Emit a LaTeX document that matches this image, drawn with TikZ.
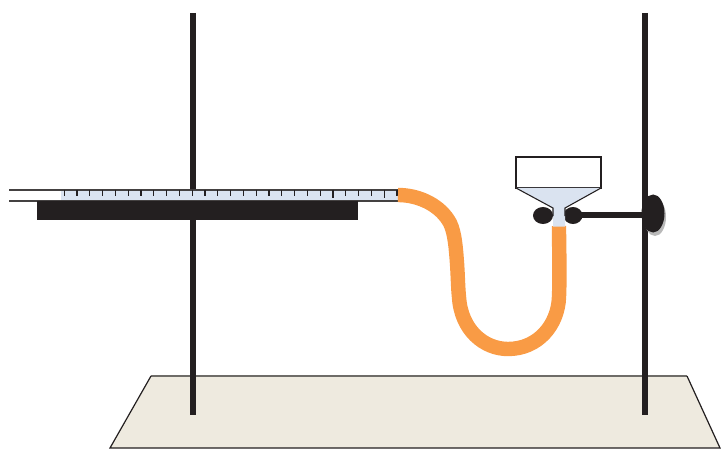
\documentclass[tikz,border=0pt]{standalone}
\definecolor{inkk}{HTML}{231F20}
\definecolor{basefill}{HTML}{EEEADF}
\definecolor{glass}{HTML}{DAE3F0}
\definecolor{tube}{HTML}{F99B45}
\definecolor{softline}{HTML}{6E6C68}
\tikzset{
  rod/.style={draw=inkk,line width=3.8pt},
  thinline/.style={draw=inkk!85,line width=1pt},
  tick/.style={draw=inkk,line width=1pt},
  blob/.style={fill=inkk,draw=none},
  tubing/.style={draw=tube,line width=10.8pt}
}
\begin{document}
\begin{tikzpicture}[x=0.75pt,y=-0.75pt]
\useasboundingbox (0,0) rectangle (721,449);
% base
\fill[basefill] (151,376) -- (687,376) -- (720,448) -- (110,448) -- cycle;
\draw[softline,line width=1pt] (151,376) -- (687,376);
\draw[inkk,line width=0.9pt] (151,376) -- (110,448) -- (720,448) -- (687,376);
% rods
\draw[rod] (193,13) -- (193,415);
\draw[rod] (645,13) -- (645,415);
% ruler / pipette
\fill[glass] (61,190) rectangle (400,201);
\draw[thinline] (9,190) -- (400,190);
\draw[thinline] (9,201) -- (400,201);
\foreach \i in {0,...,26} {
  \pgfmathsetmacro{\xx}{64.2+12.8*\i}
  \draw[tick] (\xx,190) -- (\xx,196);
}
\foreach \i in {21,25} {
  \pgfmathsetmacro{\xx}{64.2+12.8*\i}
  \draw[tick] (\xx,190) -- (\xx,198);
}
% slab
\fill[inkk] (37,201) rectangle (358,220);
% tube
\draw[tubing,line cap=butt] (398,195)
  .. controls (420,195) and (441,206) .. (450,223)
  .. controls (455,233) and (456,250) .. (457,263)
  .. controls (458,278) and (458,288) .. (459,297)
  .. controls (461,330) and (484,349) .. (508,349)
  .. controls (538,349) and (558,325) .. (559,297)
  .. controls (560,272) and (559,248) .. (559,226);
% clamp
\fill[blob] (543,215.5) ellipse (10 and 8.5);
\fill[blob] (573,215.5) ellipse (9.5 and 8.5);
\draw[draw=inkk,line width=3.8pt] (575,215) -- (648,215);
% funnel
\draw[draw=inkk,fill=white,line width=0.9pt] (516,157) rectangle (601,188);
\fill[glass] (516,188) -- (601,188) -- (565,208) -- (565,226.5) -- (553,226.5) -- (553,208) -- cycle;
\draw[draw=inkk,line width=0.8pt] (516,188) -- (553,208) -- (553,216);
\draw[draw=inkk,line width=0.8pt] (601,188) -- (565,208) -- (565,216);
% stand boss
\fill[gray!55] (655,217) ellipse (11 and 19);
\fill[blob] (653,213.5) ellipse (11.5 and 19);
\end{tikzpicture}
\end{document}
